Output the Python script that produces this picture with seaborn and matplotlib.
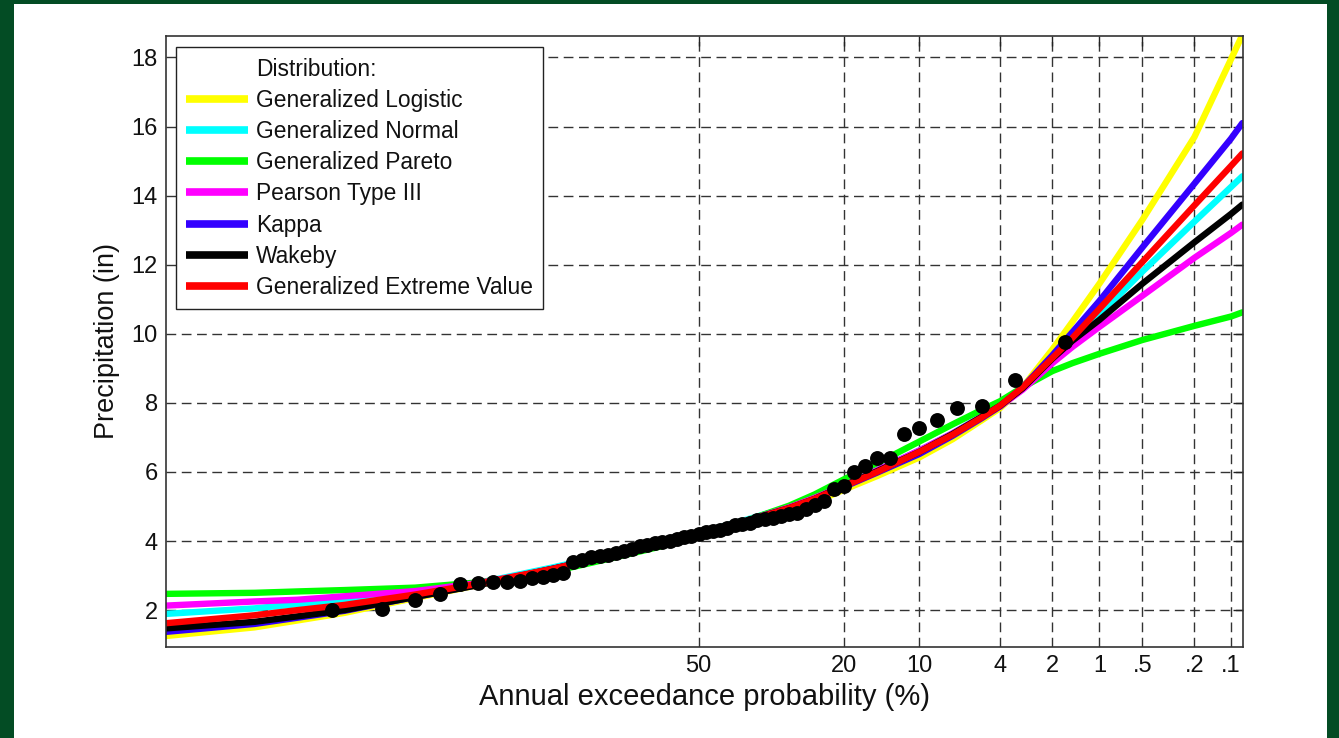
from statistics import NormalDist
import numpy as np
import pandas as pd
import matplotlib
matplotlib.use("Agg")
import matplotlib.pyplot as plt
import seaborn as sns
from matplotlib.lines import Line2D
from matplotlib.patches import Rectangle

# annual exceedance probabilities (%) where the fitted curves were read
curve_aep = [99.9, 99.5, 99, 98, 95, 90, 80, 70, 60, 50, 40, 30, 25, 20, 15, 10,
             7, 5, 4, 3, 2, 1.5, 1, 0.5, 0.2, 0.1, 0.08]

glo = [1.25, 1.50, 1.70, 1.92, 2.35, 2.72, 3.18, 3.53, 3.85, 4.15, 4.48, 4.86, 5.12, 5.48,
       5.88, 6.42, 6.95, 7.50, 7.85, 8.45, 9.55, 10.35, 11.45, 13.30, 15.70, 17.95, 18.65]
gno = [1.89, 2.05, 2.17, 2.30, 2.52, 2.78, 3.24, 3.60, 3.92, 4.23, 4.58, 4.98, 5.25, 5.62,
       6.05, 6.62, 7.12, 7.62, 7.94, 8.45, 9.30, 9.85, 10.55, 11.80, 13.25, 14.25, 14.56]
gpa = [2.47, 2.50, 2.54, 2.58, 2.65, 2.80, 3.12, 3.48, 3.80, 4.14, 4.55, 5.02, 5.35, 5.78,
       6.25, 6.88, 7.38, 7.80, 8.05, 8.45, 8.92, 9.15, 9.42, 9.82, 10.23, 10.50, 10.62]
pe3 = [2.13, 2.25, 2.30, 2.40, 2.55, 2.78, 3.17, 3.54, 3.86, 4.17, 4.55, 4.97, 5.25, 5.60,
       6.05, 6.62, 7.12, 7.60, 7.90, 8.38, 9.15, 9.62, 10.20, 11.10, 12.20, 12.92, 13.16]
kap = [1.37, 1.60, 1.78, 1.98, 2.38, 2.73, 3.20, 3.56, 3.88, 4.18, 4.52, 4.93, 5.20, 5.56,
       5.98, 6.52, 7.05, 7.56, 7.90, 8.45, 9.38, 10.05, 10.95, 12.50, 14.35, 15.65, 16.10]
wak = [1.47, 1.66, 1.82, 2.00, 2.38, 2.72, 3.20, 3.56, 3.88, 4.19, 4.55, 4.95, 5.22, 5.60,
       6.02, 6.58, 7.10, 7.60, 7.92, 8.42, 9.28, 9.80, 10.40, 11.45, 12.65, 13.47, 13.74]
gev = [1.62, 1.85, 2.00, 2.15, 2.45, 2.76, 3.20, 3.57, 3.88, 4.19, 4.53, 4.95, 5.22, 5.58,
       6.00, 6.58, 7.08, 7.58, 7.92, 8.45, 9.30, 9.88, 10.72, 12.08, 13.72, 14.86, 15.22]

dist_names = ["Generalized Logistic", "Generalized Normal", "Generalized Pareto",
              "Pearson Type III", "Kappa", "Wakeby", "Generalized Extreme Value"]
dist_colors = ["#ffff00", "#00ffff", "#00ff00", "#ff00ff", "#3300ff", "#000000", "#ff0000"]

# observed annual maxima, largest first
observed = [9.75, 8.67, 7.90, 7.85, 7.51, 7.27, 7.10, 6.40, 6.40, 6.18,
            6.01, 5.58, 5.50, 5.15, 5.05, 4.92, 4.82, 4.77, 4.72, 4.66,
            4.63, 4.60, 4.53, 4.50, 4.47, 4.38, 4.32, 4.28, 4.25, 4.20,
            4.15, 4.11, 4.05, 4.01, 3.96, 3.93, 3.89, 3.85, 3.76, 3.70,
            3.65, 3.60, 3.57, 3.53, 3.45, 3.40, 3.08, 3.02, 2.96, 2.92,
            2.85, 2.82, 2.80, 2.78, 2.75, 2.47, 2.29, 2.02, 2.00]

tick_aep = [50, 20, 10, 4, 2, 1, 0.5, 0.2, 0.1]
tick_text = ["50", "20", "10", "4", "2", "1", ".5", ".2", ".1"]

nd = NormalDist()


def to_z(aep):
    # normal probability scale
    return [nd.inv_cdf(1 - p / 100.0) for p in aep]


curves = pd.concat([
    pd.DataFrame({"z": to_z(curve_aep), "precip": vals, "dist": name})
    for name, vals in zip(dist_names, [glo, gno, gpa, pe3, kap, wak, gev])
], ignore_index=True)

n = len(observed)
obs = pd.DataFrame({"precip": observed,
                    "aep": 100.0 * np.arange(1, n + 1) / (n + 1)})  # Weibull positions
obs["z"] = to_z(obs["aep"])

sns.set_style("white")
plt.rcParams["font.family"] = ["Liberation Sans", "DejaVu Sans"]

fig = plt.figure(figsize=(13.39, 7.38), dpi=100)
fig.patch.set_facecolor("#034c24")
fig.patches.append(Rectangle((14 / 1339, 0), (1327 - 14) / 1339, 1 - 4 / 738,
                             transform=fig.transFigure, facecolor="white",
                             edgecolor="none", zorder=-10))
ax = fig.add_axes([166 / 1339, 1 - 646.7 / 738, (1242.7 - 166) / 1339, (646.7 - 35.7) / 738])

sns.lineplot(data=curves, x="z", y="precip", hue="dist", hue_order=dist_names,
             palette=dict(zip(dist_names, dist_colors)), linewidth=4.6,
             estimator=None, legend=False, ax=ax)
sns.scatterplot(data=obs, x="z", y="precip", color="black", s=115,
                edgecolor="black", linewidth=0, zorder=5, legend=False, ax=ax)

ax.set_xlim(-3.0902, 3.158)
ax.set_ylim(0.94, 18.63)
ax.set_xticks(to_z(tick_aep))
ax.set_xticklabels(tick_text)
ax.set_yticks(range(2, 19, 2))
ax.tick_params(direction="in", top=True, right=True, length=7, width=1,
               labelsize=17, pad=6, colors="#222222")
ax.tick_params(axis="both", labelcolor="#111111")
ax.grid(True, linestyle=(0, (7, 4)), color="#333333", linewidth=1.0)
ax.set_axisbelow(True)
for sp in ax.spines.values():
    sp.set_color("#333333")
    sp.set_linewidth(1.2)

ax.set_xlabel("Annual exceedance probability (%)", fontsize=21, labelpad=4, color="#111111")
ax.set_ylabel("Precipitation (in)", fontsize=19.5, labelpad=8, color="#111111")

handles = [Line2D([], [], color="none")]
handles += [Line2D([], [], color=c, linewidth=5.5, solid_capstyle="butt") for c in dist_colors]
labels = ["Distribution:"] + dist_names
leg = ax.legend(handles, labels, loc="upper left", bbox_to_anchor=(0.0095, 0.981),
                borderaxespad=0, fontsize=16.4, handlelength=2.7, handletextpad=0.36,
                labelspacing=0.36, borderpad=0.45, fancybox=False, framealpha=1,
                edgecolor="#222222")
leg.get_frame().set_linewidth(1.0)
for t in leg.get_texts():
    t.set_color("#111111")

fig.savefig("out.png", dpi=100, facecolor=fig.get_facecolor())
